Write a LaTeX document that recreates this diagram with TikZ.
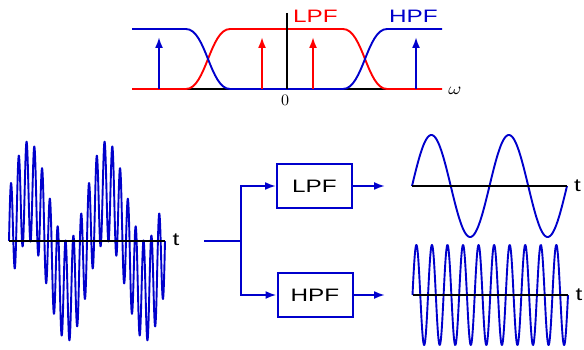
\documentclass[tikz,border=0pt]{standalone}
\usepackage{fontspec}
\newfontfamily\lblfont[FakeStretch=1.35]{Liberation Sans}
\usetikzlibrary{arrows.meta}
\definecolor{wblue}{RGB}{0,0,204}
\definecolor{wred}{RGB}{255,0,0}
\begin{document}
\begin{tikzpicture}[x=1pt,y=-1pt,
  wave/.style={wblue,line width=1.9pt,line join=round},
  axisline/.style={black,line width=1.9pt},
  lbl/.style={inner sep=0pt,font=\lblfont\fontsize{18}{18}\selectfont},
  fbox/.style={draw=wblue,line width=2pt,minimum width=75pt,minimum height=44pt,inner sep=0pt,lbl,text=black},
  sig/.style={wblue,line width=1.9pt,-{Latex[length=11pt,width=8pt]}},
  spike/.style={line width=1.9pt,-{Latex[length=11pt,width=8pt]}}]
\useasboundingbox (0,0) rectangle (584,350);

% ---------- spectrum ----------
\draw[axisline] (132,89) -- (442,89);
\draw[wred,line width=1.9pt] (132,89) -- (186,89) .. controls (206,89) and (210,29) .. (230,29)
  -- (343,29) .. controls (363,29) and (367,89) .. (387,89) -- (442,89);
\draw[wblue,line width=1.9pt] (132,29) -- (186,29) .. controls (206,29) and (210,89) .. (230,89)
  -- (343,89) .. controls (363,89) and (367,29) .. (387,29) -- (442,29);
\draw[axisline] (287,13) -- (287,89);
\coordinate (b1) at (159,89); \coordinate (t1) at (159,37);
\coordinate (b2) at (262,89); \coordinate (t2) at (262,37);
\coordinate (b3) at (313,89); \coordinate (t3) at (313,37);
\coordinate (b4) at (416,89); \coordinate (t4) at (416,37);
\draw[spike,wblue] (b1) -- (t1);
\draw[spike,wred] (b2) -- (t2);
\draw[spike,wred] (b3) -- (t3);
\draw[spike,wblue] (b4) -- (t4);
\node[lbl,text=wred] (lpfl) at (315.5,16) {LPF};
\node[lbl,text=wblue] (hpfl) at (413.3,16) {HPF};
\node[inner sep=0pt] (zero) at (285,100) {\scalebox{1.6}{0}};
\node[inner sep=0pt] (om) at (455,90.5) {\scalebox{2.0}[1.7]{$\omega$}};

% ---------- input signal ----------
\draw[wave] plot[domain=0:156,samples=700] ({9+\x},{241-50*sin(4.615385*\x)-50*sin(46.15385*\x)});
\draw[axisline] (9,241) -- (165,241);
\node[lbl] (t0) at (176,240) {t};

% ---------- block diagram ----------
\node[fbox] (lpf) at (314.5,186) {LPF};
\node[fbox] (hpf) at (315,295) {HPF};
\coordinate (in) at (204,241);
\coordinate (split) at (241,241);
\draw[wave] (in) -- (split);
\draw[sig,line join=miter] (split) |- (lpf.west);
\draw[sig,line join=miter] (split) |- (hpf.west);
\coordinate (lo) at (385,186);
\coordinate (ho) at (385,295);
\draw[sig] (lpf.east) -- (lo);
\draw[sig] (hpf.east) -- (ho);

% ---------- outputs ----------
\draw[wave] plot[domain=0:155,samples=300] ({412+\x},{186-51*sin(4.645161*\x)});
\draw[axisline] (412,186) -- (567,186);
\node[lbl] (t1l) at (577.5,185.5) {t};
\draw[wave] plot[domain=0:155.5,samples=600] ({412.5+\x},{295-50*sin(23.15113*\x)});
\draw[axisline] (412.5,295) -- (568,295);
\node[lbl] (t2l) at (579,294.5) {t};
\end{tikzpicture}
\end{document}
